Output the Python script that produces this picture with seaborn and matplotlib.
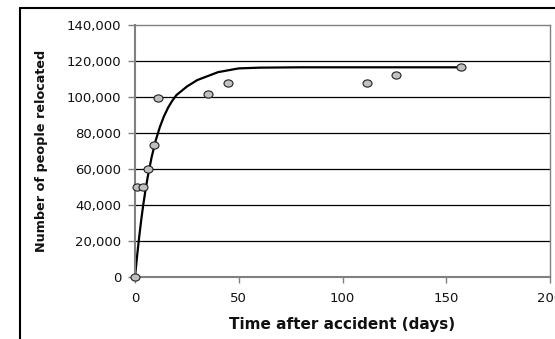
import matplotlib
matplotlib.use("Agg")
import matplotlib.pyplot as plt
from matplotlib.lines import Line2D
from matplotlib.path import Path
from matplotlib.transforms import Affine2D
import seaborn as sns
import pandas as pd

# Observed data points
days_obs = [0, 1, 4, 6.5, 9, 11, 35, 45, 112, 126, 157]
people_obs = [0, 50000, 50000, 60000, 73500, 99300, 101700, 108000, 108000, 112000, 116500]

# Fitted curve
days_fit = [0, 1, 2, 3, 4, 5, 6, 8, 10, 12, 14, 16, 18, 20, 25, 30, 35, 40, 50, 60, 80, 157]
people_fit = [0, 11600, 22100, 31700, 40300, 47900, 54800, 66500, 75900, 83400, 89400,
              94200, 98000, 101100, 105800, 109400, 111600, 113800, 115900, 116300, 116500, 116500]

x_ticks = [0, 50, 100, 150, 200]
y_ticks = [0, 20000, 40000, 60000, 80000, 100000, 120000, 140000]

sns.set_theme(style="white")
plt.rcParams['font.family'] = ['DejaVu Sans']

fig = plt.figure(figsize=(5.55, 3.39), dpi=100)
ax = fig.add_axes([135/555, 1-277/339, (550-135)/555, (277-25)/339])

obs = pd.DataFrame({"days": days_obs, "people": people_obs})
fit = pd.DataFrame({"days": days_fit, "people": people_fit})

for yv in y_ticks[1:-1]:
    ax.axhline(yv, color="#000000", lw=0.9, zorder=0)

ellipse = Path.unit_circle().transformed(Affine2D().scale(1.25, 1.0))

sns.lineplot(data=fit, x="days", y="people", ax=ax, color="black", lw=1.6, zorder=2)
sns.scatterplot(data=obs, x="days", y="people", ax=ax, color="#c0c0c0", edgecolor="#222222",
                linewidth=0.8, s=42, marker=ellipse, zorder=3, clip_on=False)

ax.set_xlim(0, 200)
ax.set_ylim(0, 140000)
ax.set_xticks(x_ticks)
ax.set_yticks(y_ticks)
ax.set_yticklabels([f"{v:,}" for v in y_ticks], fontsize=9.5, color="#111111")
ax.set_xticklabels([str(v) for v in x_ticks], fontsize=9.5, color="#111111")
ax.tick_params(axis="y", direction="out", length=5, width=1, color="#808080", left=True, pad=5)
ax.tick_params(axis="x", direction="out", length=4, width=1, color="#808080", bottom=True, pad=7)
ax.set_xlabel("Time after accident (days)", fontsize=11, fontweight="bold", color="#111111")
ax.set_ylabel("Number of people relocated", fontsize=9.2, fontweight="bold", color="#111111")
ax.xaxis.set_label_coords(0.5, (277-317)/252)
ax.yaxis.set_label_coords((48-135)/415, 0.5)

for side in ["left", "bottom"]:
    ax.spines[side].set_color("#808080")
    ax.spines[side].set_linewidth(1.5)
for side in ["top", "right"]:
    ax.spines[side].set_color("#808080")
    ax.spines[side].set_linewidth(1.0)

# outer chart border (cut off at right and bottom)
fig.add_artist(Line2D([20/555, 1.0], [1-8/339, 1-8/339], color="black", lw=1.5, transform=fig.transFigure))
fig.add_artist(Line2D([20/555, 20/555], [0, 1-8/339], color="black", lw=1.5, transform=fig.transFigure))

fig.savefig("out.png", dpi=100)
